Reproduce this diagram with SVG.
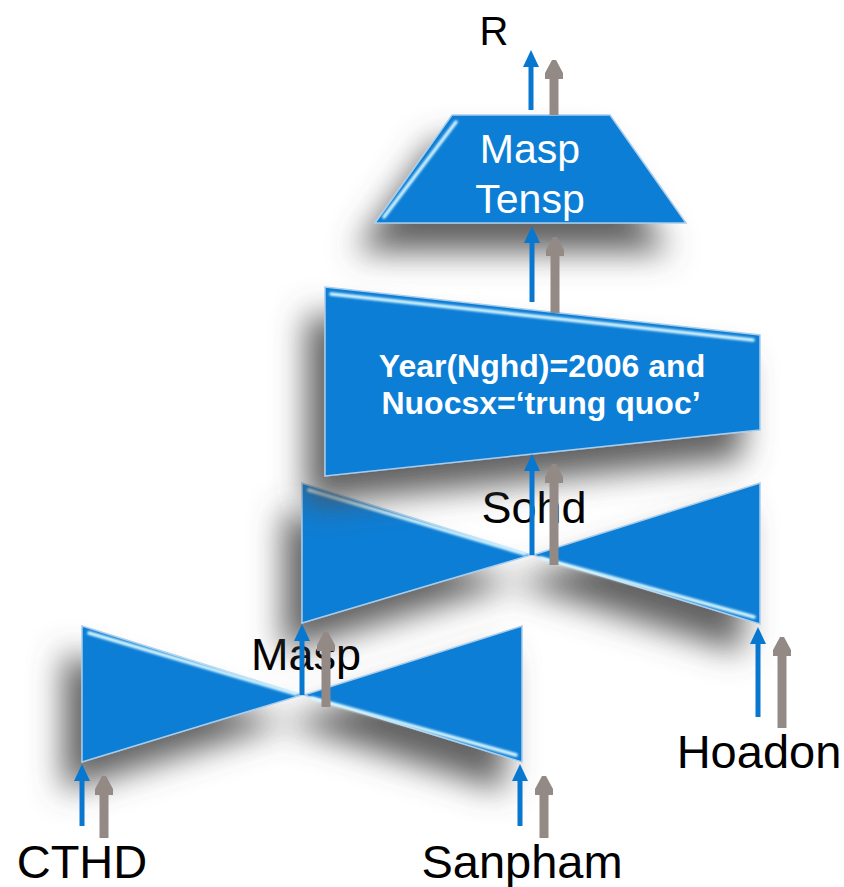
<svg xmlns="http://www.w3.org/2000/svg" width="844" height="887" viewBox="0 0 844 887">
<style>
.shape{fill:#0A7ED6;stroke:#A9CDEB;stroke-width:1.5;stroke-linejoin:miter}
.hl{fill:none;stroke:#D8F7FF;stroke-width:3.5;stroke-linecap:round}
.lbl{font-family:"Liberation Sans",Arial,sans-serif;fill:#000;text-anchor:middle}
.wt{font-family:"Liberation Sans",Arial,sans-serif;fill:#fff;text-anchor:middle}
.ab{fill:#0877D0}
.ag{fill:#938A86}
</style>
<defs>
<filter id="sh" x="-45%" y="-45%" width="190%" height="220%">
<feGaussianBlur in="SourceAlpha" stdDeviation="16"/>
<feOffset dx="-18" dy="28" result="o"/>
<feFlood flood-color="#505050" flood-opacity="0.9"/>
<feComposite in2="o" operator="in"/>
<feMerge><feMergeNode/><feMergeNode in="SourceGraphic"/></feMerge>
</filter>
<filter id="bl" x="-10%" y="-10%" width="120%" height="120%"><feGaussianBlur stdDeviation="1"/></filter>
</defs>

<g id="join-masp">
<g filter="url(#sh)">
<polygon class="shape" points="82,626 302,695 82,762"/>
<polygon class="shape" points="522,626 522,762 304,695"/>
</g>
<line class="hl" filter="url(#bl)" x1="89" y1="633" x2="296" y2="694"/>
<line class="hl" filter="url(#bl)" x1="312" y1="698" x2="516" y2="755"/>
<text class="lbl" x="306" y="670" font-size="45">Masp</text>
</g>

<g id="join-sohd">
<g filter="url(#sh)">
<polygon class="shape" points="302,483 531,555 302,623"/>
<polygon class="shape" points="760,483 760,624 533,555"/>
</g>
<line class="hl" filter="url(#bl)" x1="309" y1="490" x2="525" y2="554"/>
<line class="hl" filter="url(#bl)" x1="541" y1="558" x2="754" y2="617"/>
<text class="lbl" x="534" y="523" font-size="45">Sohd</text>
</g>

<g id="selection">
<polygon class="shape" filter="url(#sh)" points="325,287 760,335 760,430 325,476"/>
<line class="hl" filter="url(#bl)" x1="331" y1="294" x2="753" y2="340"/>
<text class="wt" x="542" y="377" font-size="32" font-weight="bold">Year(Nghd)=2006 and</text>
<text class="wt" x="541" y="414" font-size="32" font-weight="bold">Nuocsx=‘trung quoc’</text>
</g>

<g id="projection">
<polygon class="shape" filter="url(#sh)" points="452,115 610,115 686,223 375,223"/>
<line class="hl" filter="url(#bl)" x1="456" y1="122" x2="384" y2="217"/>
<text class="wt" x="530" y="163" font-size="41">Masp</text>
<text class="wt" x="530" y="213" font-size="41">Tensp</text>
</g>

<g id="relations">
<text class="lbl" x="494" y="45" font-size="40">R</text>
<text class="lbl" x="82" y="878" font-size="47">CTHD</text>
<text class="lbl" x="522" y="878" font-size="47">Sanpham</text>
<text class="lbl" x="759" y="768" font-size="47">Hoadon</text>
</g>

<g id="connectors">
<path class="ab" d="M531,50 L539,67 L533.5,67 L533.5,110 L528.5,110 L528.5,67 L523,67 Z"/>
<path class="ag" d="M552,60 L556,60 L563,73 L563,79 L558.5,79 L558.5,115 L549.5,115 L549.5,79 L545,79 L545,73 Z"/>

<path class="ab" d="M532,226 L540,243 L534.5,243 L534.5,302 L529.5,302 L529.5,243 L524,243 Z"/>
<path class="ag" d="M553,237 L557,237 L564,250 L564,256 L559.5,256 L559.5,313 L550.5,313 L550.5,256 L546,256 L546,250 Z"/>

<path class="ab" d="M532,454 L540,471 L534.5,471 L534.5,555 L529.5,555 L529.5,471 L524,471 Z"/>
<path class="ag" d="M552,464 L556,464 L563,477 L563,483 L558.5,483 L558.5,565 L549.5,565 L549.5,483 L545,483 L545,477 Z"/>

<path class="ab" d="M302,624 L310,641 L304.5,641 L304.5,695 L299.5,695 L299.5,641 L294,641 Z"/>
<path class="ag" d="M324,632 L328,632 L335,645 L335,651 L330.5,651 L330.5,707 L321.5,707 L321.5,651 L317,651 L317,645 Z"/>

<path class="ab" d="M758,627 L766,644 L760.5,644 L760.5,717 L755.5,717 L755.5,644 L750,644 Z"/>
<path class="ag" d="M780,637 L784,637 L791,650 L791,656 L786.5,656 L786.5,728 L777.5,728 L777.5,656 L773,656 L773,650 Z"/>

<path class="ab" d="M82,764 L90,781 L84.5,781 L84.5,826 L79.5,826 L79.5,781 L74,781 Z"/>
<path class="ag" d="M102,776 L106,776 L113,789 L113,795 L108.5,795 L108.5,838 L99.5,838 L99.5,795 L95,795 L95,789 Z"/>

<path class="ab" d="M520,764 L528,781 L522.5,781 L522.5,826 L517.5,826 L517.5,781 L512,781 Z"/>
<path class="ag" d="M542,776 L546,776 L553,789 L553,795 L548.5,795 L548.5,838 L539.5,838 L539.5,795 L535,795 L535,789 Z"/>
</g>
</svg>
